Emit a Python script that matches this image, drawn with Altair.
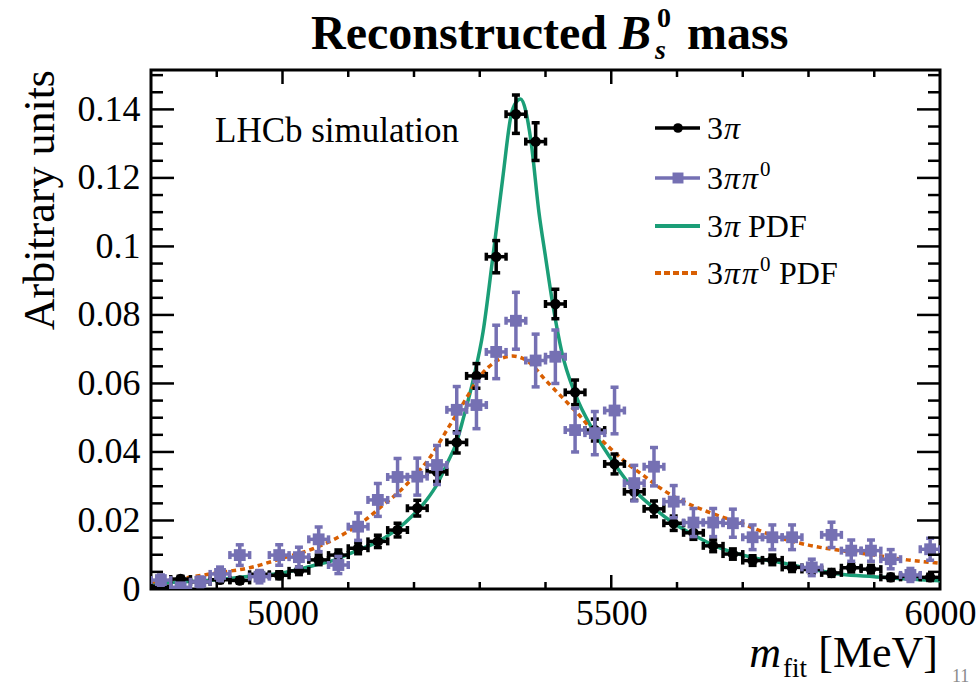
import altair as alt
import pandas as pd

# ---------------- data ----------------
mass = [4815, 4845, 4875, 4905, 4935, 4965, 4995, 5025, 5055, 5085,
        5115, 5145, 5175, 5205, 5235, 5265, 5295, 5325, 5355, 5385,
        5415, 5445, 5475, 5505, 5535, 5565, 5595, 5625, 5655, 5685,
        5715, 5745, 5775, 5805, 5835, 5865, 5895, 5925, 5955, 5985]
bin_half = 15

pi3_val = [0.0008, 0.0029, 0.0021, 0.0027, 0.0025, 0.0043, 0.0040, 0.0053, 0.0085, 0.0099,
           0.0119, 0.0139, 0.0172, 0.0236, 0.0342, 0.0428, 0.0622, 0.0970, 0.1386, 0.1306,
           0.0832, 0.0574, 0.0464, 0.0365, 0.0284, 0.0234, 0.0192, 0.0164, 0.0126, 0.0102,
           0.0083, 0.0085, 0.0063, 0.0057, 0.0047, 0.0062, 0.0058, 0.0034, 0.0037, 0.0034]
pi3_err = [0.0005, 0.0008, 0.0007, 0.0008, 0.0008, 0.0010, 0.0010, 0.0011, 0.0014, 0.0015,
           0.0016, 0.0018, 0.0020, 0.0023, 0.0028, 0.0031, 0.0036, 0.0047, 0.0056, 0.0055,
           0.0043, 0.0036, 0.0032, 0.0029, 0.0025, 0.0023, 0.0021, 0.0019, 0.0017, 0.0015,
           0.0014, 0.0014, 0.0012, 0.0011, 0.0010, 0.0012, 0.0011, 0.0009, 0.0009, 0.0009]

pi3pi0_val = [0.0026, 0.0005, 0.0021, 0.0044, 0.0099, 0.0036, 0.0099, 0.0093, 0.0145, 0.0070,
              0.0182, 0.0260, 0.0327, 0.0328, 0.0362, 0.0523, 0.0537, 0.0692, 0.0783, 0.0667,
              0.0678, 0.0464, 0.0455, 0.0521, 0.0309, 0.0357, 0.0255, 0.0194, 0.0194, 0.0192,
              0.0151, 0.0151, 0.0151, 0.0063, 0.0158, 0.0112, 0.0112, 0.0087, 0.0041, 0.0116]
pi3pi0_err = [0.0015, 0.0007, 0.0014, 0.0020, 0.0030, 0.0018, 0.0030, 0.0029, 0.0036, 0.0025,
              0.0040, 0.0048, 0.0054, 0.0054, 0.0057, 0.0068, 0.0069, 0.0078, 0.0083, 0.0077,
              0.0078, 0.0064, 0.0063, 0.0068, 0.0052, 0.0056, 0.0047, 0.0041, 0.0041, 0.0041,
              0.0036, 0.0036, 0.0036, 0.0024, 0.0037, 0.0031, 0.0031, 0.0028, 0.0019, 0.0032]

pdf3_mass = [4800, 4850, 4900, 4950, 5000, 5050, 5080, 5110, 5140, 5170,
             5200, 5220, 5235, 5250, 5265, 5275, 5290, 5305, 5320, 5335,
             5348, 5355, 5362, 5370, 5378, 5390, 5400, 5411, 5425, 5445,
             5475, 5505, 5535, 5565, 5595, 5625, 5655, 5686, 5720, 5750,
             5800, 5850, 5900, 5950, 6000]
pdf3_val = [0.0017, 0.0021, 0.0027, 0.0037, 0.0047, 0.0070, 0.0085, 0.0110, 0.0133, 0.0168,
            0.0218, 0.0262, 0.0305, 0.0365, 0.0430, 0.0498, 0.0610, 0.0750, 0.0970, 0.1200,
            0.1386, 0.1420, 0.1430, 0.1395, 0.1306, 0.1100, 0.0970, 0.0832, 0.0690, 0.0570,
            0.0455, 0.0365, 0.0289, 0.0236, 0.0192, 0.0158, 0.0128, 0.0106, 0.0090, 0.0080,
            0.0060, 0.0043, 0.0036, 0.0029, 0.0024]

pdf4_mass = [4800, 4850, 4900, 4950, 5000, 5050, 5100, 5125, 5150, 5175,
             5200, 5225, 5250, 5275, 5300, 5325, 5350, 5375, 5400, 5425,
             5450, 5475, 5500, 5525, 5550, 5575, 5600, 5650, 5700, 5750,
             5800, 5850, 5900, 5950, 6000]
pdf4_val = [0.0020, 0.0032, 0.0047, 0.0062, 0.0090, 0.0120, 0.0168, 0.0200, 0.0240, 0.0280,
            0.0328, 0.0386, 0.0464, 0.0542, 0.0620, 0.0665, 0.0680, 0.0662, 0.0610, 0.0560,
            0.0510, 0.0455, 0.0408, 0.0365, 0.0330, 0.0294, 0.0265, 0.0223, 0.0190, 0.0153,
            0.0128, 0.0112, 0.0099, 0.0085, 0.0075]

x_label_vals = [5000, 5500, 6000]
x_major_ticks = [5000, 5500]
x_minor_ticks = [4900, 5100, 5200, 5300, 5400, 5600, 5700, 5800, 5900]
y_label_vals = [0, 0.02, 0.04, 0.06, 0.08, 0.10, 0.12, 0.14]
y_major_ticks = [0.02, 0.04, 0.06, 0.08, 0.10, 0.12, 0.14]
y_minor_ticks = [0.005, 0.01, 0.015, 0.025, 0.03, 0.035, 0.045, 0.05, 0.055,
                 0.065, 0.07, 0.075, 0.085, 0.09, 0.095, 0.105, 0.11, 0.115,
                 0.125, 0.13, 0.135, 0.145, 0.15]

# ---------------- styling ----------------
W, H = 789, 519
SERIF = "Liberation Serif"
BLACK, PURPLE, GREEN, ORANGE = "#000000", "#7570b3", "#1b9e77", "#d95f02"

xs = alt.Scale(domain=[4800, 6000], nice=False, zero=False)
ys = alt.Scale(domain=[0, 0.1515], nice=False, zero=False)
xax = alt.Axis(values=x_label_vals, format="d", ticks=False, domain=False, grid=False,
               labelFont=SERIF, labelFontSize=36, labelColor="black", labelPadding=7,
               labelFlush=False, title=None)
yax = alt.Axis(values=y_label_vals, format=".2~f", ticks=False, domain=False, grid=False,
               labelFont=SERIF, labelFontSize=36, labelColor="black", labelPadding=11,
               labelFlush=False, title=None)


def X(f):
    return alt.X(f, type="quantitative", scale=xs, axis=xax)


def Y(f):
    return alt.Y(f, type="quantitative", scale=ys, axis=yax)


def points_df(vals, errs):
    return pd.DataFrame({
        "m": mass,
        "lo": [m - bin_half for m in mass],
        "hi": [m + bin_half for m in mass],
        "v": vals,
        "vlo": [v - e for v, e in zip(vals, errs)],
        "vhi": [v + e for v, e in zip(vals, errs)],
    })


def series_layers(df, color, shape, size):
    base = alt.Chart(df)
    sw = 3.5
    cap = dict(color=color, size=8, thickness=3.5, opacity=1, clip=True)
    return [
        base.mark_rule(color=color, strokeWidth=sw, clip=True).encode(x=X("m"), y=Y("vlo"), y2="vhi"),
        base.mark_rule(color=color, strokeWidth=sw, clip=True).encode(x=X("lo"), x2="hi", y=Y("v")),
        base.mark_tick(orient="horizontal", **cap).encode(x=X("m"), y=Y("vhi")),
        base.mark_tick(orient="horizontal", **cap).encode(x=X("m"), y=Y("vlo")),
        base.mark_tick(orient="vertical", **cap).encode(x=X("lo"), y=Y("v")),
        base.mark_tick(orient="vertical", **cap).encode(x=X("hi"), y=Y("v")),
        base.mark_point(shape=shape, filled=True, size=size, color=color, opacity=1, clip=True)
            .encode(x=X("m"), y=Y("v")),
    ]


one = alt.Data(values=[{"a": 1}])


def txt(s, x, y, size, weight="normal", style="normal", align="left",
        baseline="alphabetic", color="black", angle=None):
    kw = dict(font=SERIF, fontSize=size, fontWeight=weight, fontStyle=style,
              align=align, baseline=baseline, color=color)
    if angle is not None:
        kw["angle"] = angle
    return alt.Chart(one).mark_text(**kw).encode(
        x=alt.value(x), y=alt.value(y), text=alt.value(s))


layers = []

# PDF curves
pdf3 = pd.DataFrame({"m": pdf3_mass, "v": pdf3_val})
pdf4 = pd.DataFrame({"m": pdf4_mass, "v": pdf4_val})
layers.append(alt.Chart(pdf3).mark_line(color=GREEN, strokeWidth=3.5, interpolate="monotone", clip=True)
              .encode(x=X("m"), y=Y("v")))
layers.append(alt.Chart(pdf4).mark_line(color=ORANGE, strokeWidth=3.5, strokeDash=[5, 4],
                                        interpolate="monotone", clip=True)
              .encode(x=X("m"), y=Y("v")))

# data points
layers += series_layers(points_df(pi3_val, pi3_err), BLACK, "circle", 110)
layers += series_layers(points_df(pi3pi0_val, pi3pi0_err), PURPLE, "square", 140)

# inner ticks (ROOT style) on all four sides
xmaj = pd.DataFrame({"t": x_major_ticks})
xmin = pd.DataFrame({"t": x_minor_ticks})
ymaj = pd.DataFrame({"t": y_major_ticks})
ymin = pd.DataFrame({"t": y_minor_ticks})
TW = 2.5
for df, ln in ((xmaj, 14), (xmin, 7)):
    layers.append(alt.Chart(df).mark_rule(color="black", strokeWidth=TW)
                  .encode(x=X("t"), y=alt.value(H), y2=alt.value(H - ln)))
    layers.append(alt.Chart(df).mark_rule(color="black", strokeWidth=TW)
                  .encode(x=X("t"), y=alt.value(0), y2=alt.value(ln)))
for df, ln in ((ymaj, 23), (ymin, 12)):
    layers.append(alt.Chart(df).mark_rule(color="black", strokeWidth=TW)
                  .encode(y=Y("t"), x=alt.value(0), x2=alt.value(ln)))
    layers.append(alt.Chart(df).mark_rule(color="black", strokeWidth=TW)
                  .encode(y=Y("t"), x=alt.value(W - ln), x2=alt.value(W)))

# title  "Reconstructed B_s^0 mass"
TB = -21
layers += [
    txt("Reconstructed", 456, TB, 48, weight="bold", align="right"),
    txt("B", 468, TB, 48, weight="bold", style="italic"),
    txt("s", 504, TB + 10, 28, weight="bold", style="italic"),
    txt("0", 506, TB - 22, 28, weight="bold"),
    txt("mass", 536, TB, 48, weight="bold"),
]

# axis titles
layers += [
    txt("Arbitrary units", -110, 0, 44, align="right", baseline="middle", angle=270),
    txt("m", 630, 597, 44, style="italic", align="right"),
    txt("fit", 632, 607, 27),
    txt("[MeV]", 787, 597, 44, align="right"),
    txt("11", 801, 612, 18, color="#8c8c8c"),
]

# LHCb label
layers.append(txt("LHCb simulation", 64, 72, 35))

# legend
LX0, LX1, LXM = 504, 549, 527
rows = [58, 108, 156, 203]
layers += [
    alt.Chart(one).mark_rule(color=BLACK, strokeWidth=3.5).encode(
        x=alt.value(LX0), x2=alt.value(LX1), y=alt.value(rows[0])),
    alt.Chart(one).mark_point(shape="circle", filled=True, size=95, color=BLACK, opacity=1).encode(
        x=alt.value(LXM), y=alt.value(rows[0])),
    alt.Chart(one).mark_rule(color=PURPLE, strokeWidth=3.5).encode(
        x=alt.value(LX0), x2=alt.value(LX1), y=alt.value(rows[1])),
    alt.Chart(one).mark_point(shape="square", filled=True, size=120, color=PURPLE, opacity=1).encode(
        x=alt.value(LXM), y=alt.value(rows[1])),
    alt.Chart(one).mark_rule(color=GREEN, strokeWidth=4).encode(
        x=alt.value(LX0), x2=alt.value(LX1), y=alt.value(rows[2])),
    alt.Chart(one).mark_rule(color=ORANGE, strokeWidth=4, strokeDash=[6, 3]).encode(
        x=alt.value(LX0), x2=alt.value(LX1), y=alt.value(rows[3])),
]
LF = 32
for i, r in enumerate(rows):
    b = r + 11
    layers.append(txt("3", 556, b, LF))
    layers.append(txt("π", 573, b, LF, style="italic"))
    if i in (1, 3):
        layers.append(txt("π", 591, b, LF, style="italic"))
        layers.append(txt("0", 609, b - 13, 21))
    if i == 2:
        layers.append(txt("PDF", 597, b, LF))
    if i == 3:
        layers.append(txt("PDF", 628, b, LF))

chart = alt.layer(*layers).properties(
    width=W, height=H,
    padding={"left": 151, "top": 70, "right": 39, "bottom": 95},
    autosize=alt.AutoSizeParams(type="none"),
    background="white",
).configure_view(stroke="black", strokeWidth=3)

chart.save("out.html", embed_options={"renderer": "svg", "actions": False})
